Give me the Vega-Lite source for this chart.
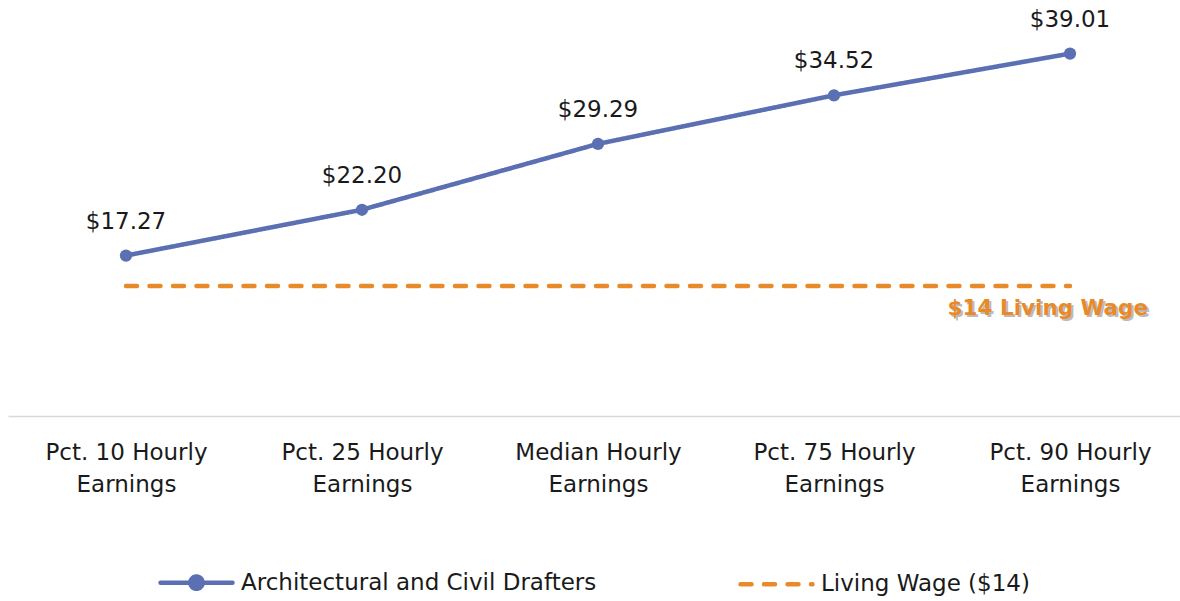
{
  "$schema": "https://vega.github.io/schema/vega-lite/v6.json",
  "width": 1172,
  "height": 416,
  "autosize": {"type": "none"},
  "padding": {"left": 8, "top": 0, "right": 0, "bottom": 185},
  "config": {
    "view": {"stroke": null},
    "font": "DejaVu Sans",
    "text": {"font": "DejaVu Sans"}
  },
  "data": {
    "values": [
      {"category": "Pct. 10 Hourly Earnings", "series": "Architectural and Civil Drafters", "value": 17.27},
      {"category": "Pct. 25 Hourly Earnings", "series": "Architectural and Civil Drafters", "value": 22.20},
      {"category": "Median Hourly Earnings", "series": "Architectural and Civil Drafters", "value": 29.29},
      {"category": "Pct. 75 Hourly Earnings", "series": "Architectural and Civil Drafters", "value": 34.52},
      {"category": "Pct. 90 Hourly Earnings", "series": "Architectural and Civil Drafters", "value": 39.01},
      {"category": "Pct. 10 Hourly Earnings", "series": "Living Wage ($14)", "value": 14},
      {"category": "Pct. 25 Hourly Earnings", "series": "Living Wage ($14)", "value": 14},
      {"category": "Median Hourly Earnings", "series": "Living Wage ($14)", "value": 14},
      {"category": "Pct. 75 Hourly Earnings", "series": "Living Wage ($14)", "value": 14},
      {"category": "Pct. 90 Hourly Earnings", "series": "Living Wage ($14)", "value": 14}
    ]
  },
  "encoding": {
    "x": {
      "field": "category",
      "type": "nominal",
      "sort": null,
      "scale": {"type": "point", "padding": 0.483, "align": 0.5175},
      "axis": {
        "title": null,
        "ticks": false,
        "grid": false,
        "domainColor": "#D9D9D9",
        "domainWidth": 1.5,
        "labelAngle": 0,
        "labelFontSize": 23,
        "labelLineHeight": 32,
        "labelColor": "#1a1a1a",
        "labelPadding": 25,
        "labelExpr": "[replace(datum.label, ' Earnings', ''), 'Earnings']"
      }
    },
    "y": {
      "field": "value",
      "type": "quantitative",
      "scale": {"domain": [0, 44.78], "nice": false},
      "axis": null
    }
  },
  "layer": [
    {
      "mark": {"type": "line", "strokeWidth": 4.5, "strokeCap": "round"},
      "encoding": {
        "color": {
          "field": "series",
          "type": "nominal",
          "scale": {"domain": ["Architectural and Civil Drafters", "Living Wage ($14)"], "range": ["#5B6FB3", "#E98A2A"]},
          "legend": {
            "title": null,
            "orient": "none",
            "direction": "horizontal",
            "legendX": 150,
            "legendY": 544,
            "labelFontSize": 23,
            "labelLimit": 600,
            "labelColor": "#1a1a1a",
            "labelOffset": 6,
            "columnPadding": 134,
            "symbolSize": 5184,
            "symbolStrokeWidth": 4.5,
            "symbolType": "stroke",
            "encode": {
              "symbols": {
                "update": {
                  "shape": {"signal": "datum.value == 'Living Wage ($14)' ? 'stroke' : 'M-1,0H1M0.17,0A0.17,0.17,0,1,1,-0.17,0A0.17,0.17,0,1,1,0.17,0'"},
                  "strokeDash": {"signal": "datum.value == 'Living Wage ($14)' ? [11, 12.5] : [1, 0]"},
                  "fill": {"signal": "datum.value == 'Living Wage ($14)' ? 'transparent' : '#5B6FB3'"},
                  "stroke": {"signal": "datum.value == 'Living Wage ($14)' ? '#E98A2A' : '#5B6FB3'"},
                  "strokeCap": {"value": "round"},
                  "strokeWidth": {"value": 4.5}
                }
              }
            }
          }
        },
        "strokeDash": {
          "field": "series",
          "type": "nominal",
          "scale": {"domain": ["Architectural and Civil Drafters", "Living Wage ($14)"], "range": [[1, 0], [11, 12.5]]},
          "legend": null
        }
      }
    },
    {
      "transform": [{"filter": "datum.series == 'Architectural and Civil Drafters'"}],
      "mark": {"type": "point", "filled": true, "size": 150, "opacity": 1, "color": "#5B6FB3"},
      "encoding": {}
    },
    {
      "transform": [{"filter": "datum.series == 'Architectural and Civil Drafters'"}],
      "mark": {"type": "text", "fontSize": 23, "dy": -34, "baseline": "middle", "color": "#1a1a1a"},
      "encoding": {
        "text": {"field": "value", "type": "quantitative", "format": "$.2f"}
      }
    },
    {
      "transform": [{"filter": "datum.series == 'Living Wage ($14)' && datum.category == 'Pct. 90 Hourly Earnings'"}],
      "mark": {"type": "text", "fontSize": 21.5, "fontWeight": "bold", "align": "right", "baseline": "middle", "dx": 80, "dy": 25, "color": "#7a7a7a", "opacity": 0.5},
      "encoding": {"text": {"value": "$14 Living Wage"}}
    },
    {
      "transform": [{"filter": "datum.series == 'Living Wage ($14)' && datum.category == 'Pct. 90 Hourly Earnings'"}],
      "mark": {"type": "text", "fontSize": 21.5, "fontWeight": "bold", "align": "right", "baseline": "middle", "dx": 78, "dy": 23, "color": "#E98A2A"},
      "encoding": {"text": {"value": "$14 Living Wage"}}
    }
  ]
}
